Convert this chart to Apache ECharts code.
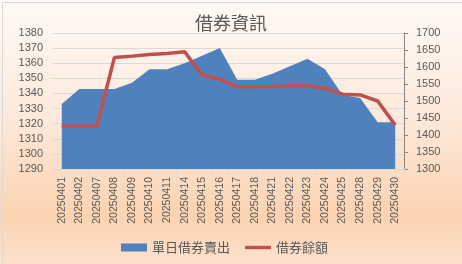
<!DOCTYPE html>
<html><head><meta charset="utf-8">
<script src="https://cdn.jsdelivr.net/npm/echarts@6/dist/echarts.min.js"></script>
<style>html,body{margin:0;padding:0;background:#fff}#c{width:462px;height:264px}</style>
</head><body><div id="c"></div>
<script>
const categories = ['20250401','20250402','20250407','20250408','20250409','20250410','20250411','20250414','20250415','20250416','20250417','20250418','20250421','20250422','20250423','20250424','20250425','20250428','20250429','20250430'];
const dailyShortSell = [1333,1343,1343,1343,1347,1356,1356,1360,1365,1370,1349,1349,1353,1358,1363,1356,1339,1337,1321,1321];
const lendingBalance = [1426,1426,1426,1628,1632,1637,1640,1645,1576,1564,1542,1542,1543,1545,1545,1537,1520,1518,1500,1429];
const leftTicks = {min:1290, max:1380, interval:10};
const rightTicks = {min:1300, max:1700, interval:50};
const seriesNames = ['單日借券賣出','借券餘額'];

const chart = echarts.init(document.getElementById('c'), null, {renderer:'canvas'});
const txt = '#595959';
const plain = v => String(v);
chart.setOption({
  animation:false,
  backgroundColor:{type:'linear',x:0,y:0,x2:0,y2:1,colorStops:[
    {offset:0,color:'#fffaf6'},{offset:0.45,color:'#fde9da'},{offset:0.82,color:'#fcd3b1'},{offset:1,color:'#fde1cc'}]},
  graphic:[{type:'rect',left:0,top:0,shape:{x:0.5,y:0.5,width:461,height:263},
    style:{fill:'none',stroke:'#d9d9d9',lineWidth:1},silent:true}],
  title:{text:'借券資訊',left:'center',top:9,textStyle:{fontFamily:'Noto Sans CJK TC',fontSize:18,fontWeight:'normal',color:txt}},
  legend:{left:116,top:236,itemGap:15,itemWidth:26,itemHeight:8,
    textStyle:{fontFamily:'Noto Sans CJK TC',fontSize:13,color:txt},
    data:[{name:seriesNames[0],icon:'rect'},{name:seriesNames[1],icon:'path://M0,0L27,0L27,3.5L0,3.5Z'}]},
  grid:{left:53,right:58,top:33,bottom:95},
  xAxis:{type:'category',data:categories,boundaryGap:true,
    axisLine:{lineStyle:{color:'#d9d9d9'}},
    axisTick:{show:true,length:4,lineStyle:{color:'#d9d9d9'}},
    axisLabel:{rotate:90,interval:0,margin:8,fontFamily:'Liberation Sans',fontSize:10.5,color:txt}},
  yAxis:[
    {type:'value',min:leftTicks.min,max:leftTicks.max,interval:leftTicks.interval,
      axisLine:{show:false},axisTick:{show:false},
      splitLine:{lineStyle:{color:'#d9d9d9',width:1}},
      axisLabel:{margin:10,fontFamily:'Liberation Sans',fontSize:11,color:txt,formatter:plain}},
    {type:'value',min:rightTicks.min,max:rightTicks.max,interval:rightTicks.interval,position:'right',
      axisLine:{show:true,lineStyle:{color:'#868686'}},
      axisTick:{show:true,length:4,lineStyle:{color:'#868686'}},
      splitLine:{show:false},
      axisLabel:{margin:12,fontFamily:'Liberation Sans',fontSize:11,color:txt,formatter:plain}}
  ],
  series:[
    {name:seriesNames[0],type:'line',yAxisIndex:0,data:dailyShortSell,symbol:'none',
      itemStyle:{color:'#4f81bd'},lineStyle:{width:0,color:'#4f81bd'},
      areaStyle:{color:'#4f81bd',opacity:1,origin:'start'}},
    {name:seriesNames[1],type:'line',yAxisIndex:1,data:lendingBalance,symbol:'none',
      itemStyle:{color:'#c0504d'},lineStyle:{width:3.5,color:'#c0504d'}}
  ]
});
</script></body></html>
